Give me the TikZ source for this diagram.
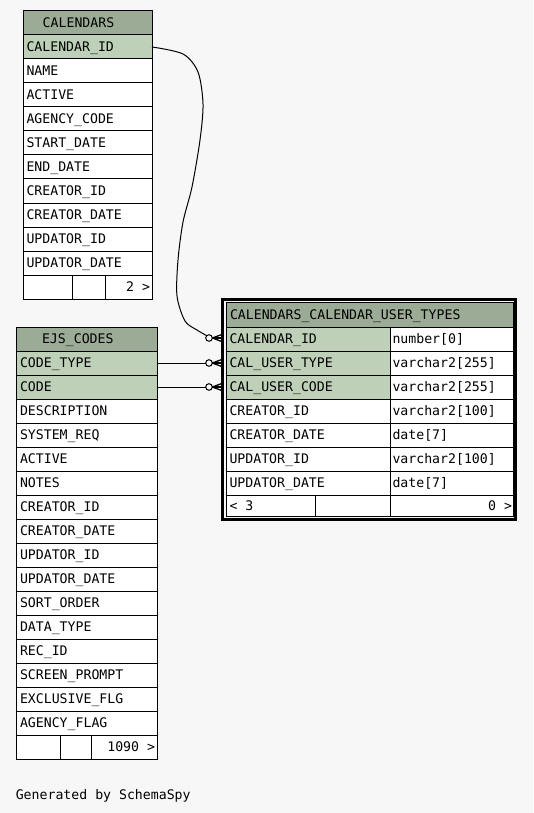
\documentclass[tikz,border=0pt]{standalone}
\usepackage{fontspec}
\setmonofont{DejaVu Sans Mono}
\definecolor{hdrc}{HTML}{9BAB96}
\definecolor{pkc}{HTML}{BED1B8}
\definecolor{bgc}{HTML}{F7F7F7}
\begin{document}
\begin{tikzpicture}[x=1pt,y=-1pt,
  cell/.style={draw=black, line width=1pt, rectangle, inner sep=0pt, outer sep=0pt,
    minimum height=24pt, anchor=north west, fill=white},
  txt/.style={font=\ttfamily\fontsize{13.2}{15}\selectfont, inner sep=0pt, outer sep=0pt,
    anchor=base west, text=black},
  odot/.style={draw=black, circle, line width=1pt, inner sep=0pt, outer sep=0pt,
    minimum size=6.6pt, fill=bgc},
  conn/.style={draw=black, line width=1pt},
  crow/.style={draw=black, line width=1.3pt}]
\fill[bgc] (0,0) rectangle (533,813);
\useasboundingbox (0,0) rectangle (533,813);

% ---------------- CALENDARS ----------------
\node[cell, fill=hdrc, minimum width=129pt] (cal-h) at (23,11) {};
\node[txt, anchor=base] (cal-ht) at (78.5,27.5) {CALENDARS};
\foreach \n [count=\i] in {CALENDAR\_ID, NAME, ACTIVE, AGENCY\_CODE, START\_DATE,
    END\_DATE, CREATOR\_ID, CREATOR\_DATE, UPDATOR\_ID, UPDATOR\_DATE} {
  \pgfmathsetmacro\yy{11+24*\i}
  \ifnum\i<2 \def\ff{pkc}\else\def\ff{white}\fi
  \node[cell, fill=\ff, minimum width=129pt] (cal-\i) at (23,\yy) {};
  \node[txt] (cal-t\i) at (26.5,\yy+16.5) {\n};
}
\node[cell, minimum width=49pt] (cal-f1) at (23,275) {};
\node[cell, minimum width=33pt] (cal-f2) at (72,275) {};
\node[cell, minimum width=47pt] (cal-f3) at (105,275) {};
\node[txt, anchor=base east] (cal-ft) at (150,291.5) {2 >};

% ---------------- EJS_CODES ----------------
\node[cell, fill=hdrc, minimum width=140.8pt] (ejs-h) at (16.5,327) {};
\node[txt, anchor=base] (ejs-ht) at (77.8,343.5) {EJS\_CODES};
\foreach \n [count=\i] in {CODE\_TYPE, CODE, DESCRIPTION, SYSTEM\_REQ, ACTIVE, NOTES,
    CREATOR\_ID, CREATOR\_DATE, UPDATOR\_ID, UPDATOR\_DATE, SORT\_ORDER, DATA\_TYPE,
    REC\_ID, SCREEN\_PROMPT, EXCLUSIVE\_FLG, AGENCY\_FLAG} {
  \pgfmathsetmacro\yy{327+24*\i}
  \ifnum\i<3 \def\ff{pkc}\else\def\ff{white}\fi
  \node[cell, fill=\ff, minimum width=140.8pt] (ejs-\i) at (16.5,\yy) {};
  \node[txt] (ejs-t\i) at (20,\yy+16.5) {\n};
}
\node[cell, minimum width=43.8pt] (ejs-f1) at (16.5,735) {};
\node[cell, minimum width=31pt] (ejs-f2) at (60.3,735) {};
\node[cell, minimum width=66pt] (ejs-f3) at (91.3,735) {};
\node[txt, anchor=base east] (ejs-ft) at (155,751.5) {1090 >};

% ---------------- CALENDARS_CALENDAR_USER_TYPES ----------------
\draw[line width=3pt] (222.8,299.5) rectangle (515.5,519.5);
\node[cell, fill=hdrc, minimum width=286.5pt, minimum height=24.5pt] (main-h) at (226.5,302.5) {};
\node[txt] (main-ht) at (230,319.3) {CALENDARS\_CALENDAR\_USER\_TYPES};
\foreach \n/\t [count=\i] in {CALENDAR\_ID/number[0], CAL\_USER\_TYPE/varchar2[255],
    CAL\_USER\_CODE/varchar2[255], CREATOR\_ID/varchar2[100], CREATOR\_DATE/date[7],
    UPDATOR\_ID/varchar2[100], UPDATOR\_DATE/date[7]} {
  \pgfmathsetmacro\yy{303+24*\i}
  \ifnum\i<4 \def\ff{pkc}\else\def\ff{white}\fi
  \node[cell, fill=\ff, minimum width=163.5pt] (main-\i) at (226.5,\yy) {};
  \node[cell, minimum width=123pt] (main-c\i) at (390,\yy) {};
  \node[txt] (main-t\i) at (229.5,\yy+16.5) {\n};
  \node[txt] (main-d\i) at (392.5,\yy+16.5) {\t};
}
\node[cell, minimum width=88.5pt, minimum height=21.3pt] (main-f1) at (226.5,495.3) {};
\node[cell, minimum width=75pt, minimum height=21.3pt] (main-f2) at (315,495.3) {};
\node[cell, minimum width=123pt, minimum height=21.3pt] (main-f3) at (390,495.3) {};
\node[txt] (main-fl) at (229.5,510.8) {< 3};
\node[txt, anchor=base east] (main-fr) at (512,510.8) {0 >};

% ---------------- connectors ----------------
\node[odot] (o1) at (209,338) {};
\node[odot] (o2) at (209,363) {};
\node[odot] (o3) at (209,387) {};

\draw[conn] plot[smooth, tension=0.5] coordinates {(cal-1.east) (183,54) (198,72) (203,104)
  (200,140) (192,187) (183,222) (178,260) (177,296) (185,321) (197,330) (o1.north west)};
\draw[conn] (ejs-1.east) -- (o2.west);
\draw[conn] (ejs-2.east) -- (o3.west);

\foreach \k in {1,2,3} {
  \draw[crow] (o\k.east) -- ++(9.5,-3.5);
  \draw[crow] (o\k.east) -- ++(9.5,0);
  \draw[crow] (o\k.east) -- ++(9.5,3.5);
}

\node[txt] (gen) at (15.8,799) {Generated by SchemaSpy};
\end{tikzpicture}
\end{document}
